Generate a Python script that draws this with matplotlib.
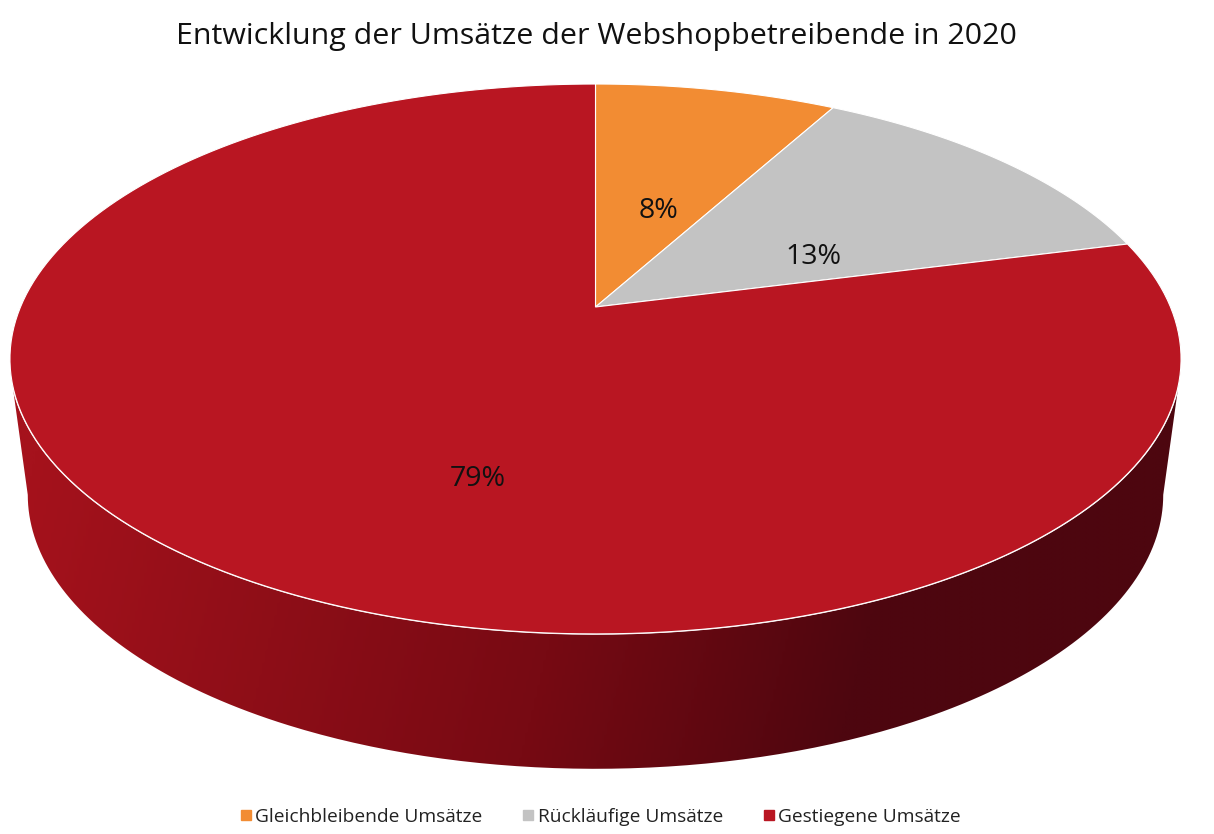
import numpy as np
import matplotlib
matplotlib.use('Agg')
import matplotlib.pyplot as plt
from matplotlib.colors import LinearSegmentedColormap
from matplotlib.lines import Line2D
from matplotlib.patches import PathPatch, Polygon
from matplotlib.path import Path

plt.rcParams['font.family'] = ['Open Sans', 'DejaVu Sans']

# Data
titel = 'Entwicklung der Umsätze der Webshopbetreibende in 2020'
kategorien = ['Gleichbleibende Umsätze', 'Rückläufige Umsätze', 'Gestiegene Umsätze']
werte = [8, 13, 79]
farben = ['#F28C33', '#C3C3C3', '#B91622']
label_pos = [(659, 209), (813, 255), (478, 477)]

# Perspective of the top and bottom disc (pixel coordinates)
K = 0.189
CX = 595.5


def oben(t):
    u, v = np.cos(t), np.sin(t)
    d = 1 + K * v
    return CX + 575 * u / d, (-207.1 * v + 307) / d


def unten(t):
    u, v = np.cos(t), np.sin(t)
    d = 1 + K * v
    return CX + 557.5 * u / d, (-180.5 * v + 443) / d


fig = plt.figure(figsize=(12.14, 8.34), dpi=100)
ax = fig.add_axes([0, 0, 1, 1])
ax.set_xlim(0, 1214)
ax.set_ylim(834, 0)
ax.axis('off')

# Side wall with gradient, clipped to the outline
t_unten = np.linspace(np.radians(190.9), np.radians(349.1), 300)
xu, yu = unten(t_unten)
x0, y0 = oben(np.radians(196))
x1, y1 = oben(np.radians(-16))
rand = np.column_stack([np.r_[x0, xu, x1, CX], np.r_[y0, yu, y1, 359]])
rand = np.vstack([rand, rand[0]])
clip = PathPatch(Path(rand), transform=ax.transData, fc='none', ec='none')
ax.add_patch(clip)

verlauf = LinearSegmentedColormap.from_list(
    'seite', [(0, '#A5121C'), (0.5, '#770A13'), (0.78, '#4E060F'), (1, '#4D060F')])
xx, yy = np.meshgrid(np.linspace(0, 1214, 400), np.linspace(300, 800, 200))
grad = np.clip((xx - 20 + 0.25 * (yy - 500)) / 1130, 0, 1)
im = ax.imshow(grad, cmap=verlauf, vmin=0, vmax=1, extent=(0, 1214, 800, 300),
               aspect='auto', zorder=1, interpolation='bilinear')
im.set_clip_path(clip)
ax.set_xlim(0, 1214)
ax.set_ylim(834, 0)

# White seam below the top face
t_saum = np.linspace(np.radians(190), np.radians(350), 300)
ax.plot(*oben(t_saum), color='white', lw=1.2, zorder=2)

# Top face slices, clockwise from 12 o'clock
start = 90.0
for wert, farbe in zip(werte, farben):
    ende = start - wert * 3.6
    t = np.radians(np.linspace(start, ende, 200))
    x, y = oben(t)
    pts = np.column_stack([np.r_[CX, x], np.r_[307, y]])
    ax.add_patch(Polygon(pts, closed=True, fc=farbe, ec='white', lw=0.8, zorder=3))
    start = ende

for wert, (lx, ly) in zip(werte, label_pos):
    ax.text(lx, ly + 1.5, f'{wert}%', ha='center', va='center', fontsize=20.5,
            color='#111111', zorder=4)

ax.text(596, 36.5, titel, ha='center', va='center', fontsize=21.85, color='#111111')

handles = [Line2D([], [], ls='none', marker='s', ms=7.2, color=f) for f in farben]
ax.legend(handles, kategorien, loc='center', bbox_to_anchor=(600.5 / 1214, 1 - 816.5 / 834),
          ncol=3, frameon=False, fontsize=13.75, handlelength=0.6, handletextpad=0.2,
          columnspacing=2.1, labelcolor='#222222', borderpad=0)

fig.savefig('out.png', dpi=100)
